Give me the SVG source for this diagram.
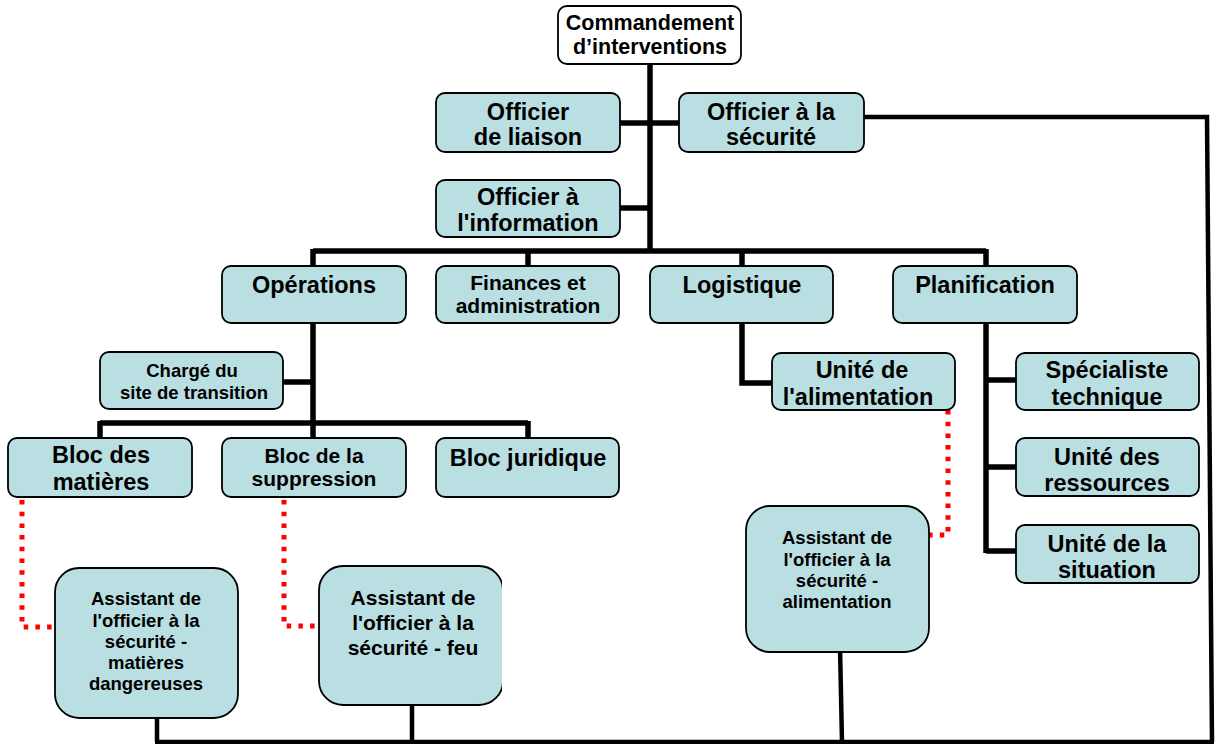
<svg xmlns="http://www.w3.org/2000/svg" width="1217" height="744" viewBox="0 0 1217 744">
<style>
.box{fill:#b9dfe2;stroke:#000;stroke-width:1.8}
.top{fill:#fff;stroke:#000;stroke-width:1.8}
text{font-family:"Liberation Sans",Arial,sans-serif;font-weight:bold;fill:#000;text-anchor:middle}
.f24{font-size:23.5px}
.f22{font-size:21.5px}
.f21{font-size:21px}
.f18{font-size:18.5px}
.ln{fill:none;stroke:#000;stroke-width:5.5;stroke-linecap:butt;stroke-linejoin:miter}
.ln2{fill:none;stroke:#000;stroke-width:4.5;stroke-linejoin:miter}
.dot{fill:none;stroke:#ff0000;stroke-width:5;stroke-dasharray:4.5 7.2}
</style>
<defs>
<clipPath id="cSpec"><rect x="1016" y="353" width="183" height="56"/></clipPath>
</defs>
<g id="connectors">
<path class="ln" d="M650 64V251M620 123H679M620 208H650M313 251H986M313 249V266M528 249V266M742 249V266M986 249V266"/>
<path class="ln" d="M313 323V423M283 382H313M100 423H528M100 421V438M313 421V438M528 421V438"/>
<path class="ln" d="M742 323V383H772"/>
<path class="ln" d="M986 323V553M986 380H1016M986 467H1016M986 551H1016"/>
<path class="ln2" d="M864 117H1207L1212 742M155 742H1214M157 718V742M412 705V742M840 647L842 742"/>
<path class="dot" d="M22 500V627H55"/>
<path class="dot" d="M284 500V626H319"/>
<path class="dot" d="M948 410V535H929"/>
</g>
<g id="commandement"><rect class="top" x="558" y="6" width="183" height="58" rx="9"/><text class="f22" x="650" y="30">Commandement</text><text class="f22" x="650" y="54">d’interventions</text></g>
<g id="liaison"><rect class="box" x="436" y="93" width="184" height="59" rx="9"/><text class="f24" x="528" y="120">Officier</text><text class="f24" x="528" y="145">de liaison</text></g>
<g id="securite"><rect class="box" x="679" y="93" width="185" height="59" rx="9"/><text class="f24" x="771" y="120">Officier à la</text><text class="f24" x="771" y="145">sécurité</text></g>
<g id="information"><rect class="box" x="436" y="180" width="184" height="57" rx="9"/><text class="f24" x="528" y="205">Officier à</text><text class="f24" x="528" y="231">l'information</text></g>
<g id="operations"><rect class="box" x="222" y="266" width="184" height="57" rx="9"/><text class="f24" x="314" y="293">Opérations</text></g>
<g id="finances"><rect class="box" x="436" y="266" width="183" height="57" rx="9"/><text class="f21" x="528" y="290">Finances et</text><text class="f21" x="528" y="313">administration</text></g>
<g id="logistique"><rect class="box" x="650" y="266" width="183" height="57" rx="9"/><text class="f24" x="742" y="293">Logistique</text></g>
<g id="planification"><rect class="box" x="893" y="266" width="184" height="57" rx="9"/><text class="f24" x="985" y="293">Planification</text></g>
<g id="charge"><rect class="box" x="100" y="352" width="183" height="57" rx="9"/><text class="f18" x="192" y="377">Chargé du</text><text class="f18" x="194" y="399">site de transition</text></g>
<g id="alimentation"><rect class="box" x="772" y="353" width="183" height="57" rx="9"/><text class="f24" x="862" y="378">Unité de</text><text class="f24" x="858" y="405">l'alimentation</text></g>
<g id="specialiste"><rect class="box" x="1016" y="353" width="183" height="57" rx="9"/><g clip-path="url(#cSpec)"><text class="f24" x="1107" y="378">Spécialiste</text><text class="f24" x="1107" y="405">technique</text></g></g>
<g id="ressources"><rect class="box" x="1016" y="438" width="183" height="58" rx="9"/><text class="f24" x="1107" y="465">Unité des</text><text class="f24" x="1107" y="491">ressources</text></g>
<g id="situation"><rect class="box" x="1016" y="525" width="183" height="58" rx="9"/><text class="f24" x="1107" y="552">Unité de la</text><text class="f24" x="1107" y="578">situation</text></g>
<g id="matieres"><rect class="box" x="8" y="438" width="184" height="59" rx="9"/><text class="f24" x="101" y="463">Bloc des</text><text class="f24" x="101" y="490">matières</text></g>
<g id="suppression"><rect class="box" x="222" y="438" width="184" height="59" rx="9"/><text class="f21" x="314" y="463">Bloc de la</text><text class="f21" x="314" y="486">suppression</text></g>
<g id="juridique"><rect class="box" x="436" y="438" width="183" height="59" rx="9"/><text class="f24" x="528" y="466">Bloc juridique</text></g>
<g id="asst-matieres"><rect class="box" x="55" y="568" width="183" height="150" rx="24"/><text class="f18" x="146" y="605">Assistant de</text><text class="f18" x="146" y="627">l'officier à la</text><text class="f18" x="146" y="648">sécurité -</text><text class="f18" x="146" y="669">matières</text><text class="f18" x="146" y="690">dangereuses</text></g>
<g id="asst-feu"><rect class="box" x="319" y="566" width="184" height="139" rx="24"/><rect x="502" y="577" width="6" height="125" fill="#fff"/><text class="f21" x="413" y="605">Assistant de</text><text class="f21" x="413" y="630">l'officier à la</text><text class="f21" x="413" y="655">sécurité - feu</text></g>
<g id="asst-alimentation"><rect class="box" x="746" y="506" width="183" height="146" rx="24"/><text class="f18" x="837" y="544">Assistant de</text><text class="f18" x="837" y="566">l'officier à la</text><text class="f18" x="837" y="587">sécurité -</text><text class="f18" x="837" y="608">alimentation</text></g>
</svg>
